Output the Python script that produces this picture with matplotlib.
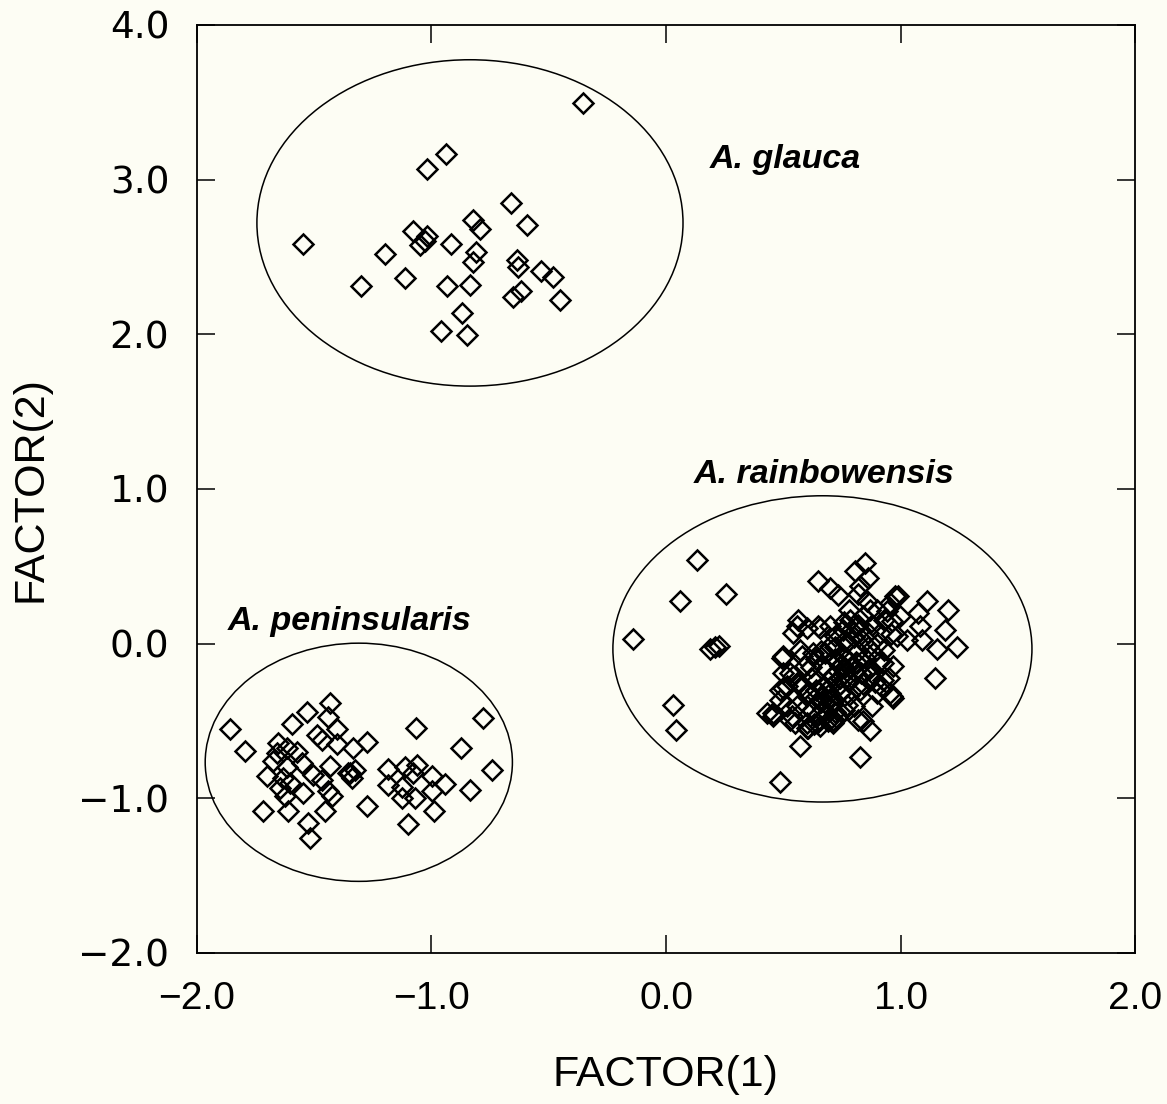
import matplotlib
matplotlib.use("Agg")
import matplotlib.pyplot as plt
from matplotlib.patches import Ellipse

# A. glauca scores
glauca_x = [-0.353, -0.938, -1.018, -0.661, -0.594, -0.824, -0.793, -1.078, -1.018, -1.028,
            -1.049, -1.549, -0.918, -1.198, -0.812, -0.824, -0.637, -0.633, -0.534, -0.481,
            -1.113, -1.302, -0.935, -0.836, -0.618, -0.651, -0.452, -0.871, -0.961, -0.847]
glauca_y = [3.498, 3.166, 3.071, 2.851, 2.707, 2.739, 2.681, 2.670, 2.638, 2.606,
            2.576, 2.582, 2.584, 2.520, 2.530, 2.470, 2.481, 2.434, 2.408, 2.369,
            2.365, 2.313, 2.315, 2.319, 2.282, 2.240, 2.222, 2.136, 2.024, 1.996]

# A. peninsularis scores
penin_x = [-1.859, -1.795, -1.433, -1.532, -1.440, -1.596, -1.404, -1.490, -1.468, -1.404,
           -1.653, -1.617, -1.575, -1.333, -1.675, -1.617, -1.554, -1.433, -1.703, -1.632,
           -1.603, -1.504, -1.468, -1.348, -1.547, -1.625, -1.440, -1.426, -1.717, -1.611,
           -1.454, -1.525, -1.518, -1.660, -1.646, -0.779, -1.067, -0.874, -1.276, -0.743,
           -1.184, -1.113, -1.063, -0.999, -0.942, -0.836, -1.184, -1.127, -1.078, -0.999,
           -1.127, -1.070, -1.276, -0.989, -1.099, -1.356, -1.339, -1.326]
penin_y = [-0.553, -0.691, -0.381, -0.445, -0.475, -0.518, -0.553, -0.590, -0.626, -0.648,
           -0.643, -0.676, -0.698, -0.676, -0.762, -0.798, -0.773, -0.790, -0.859, -0.869,
           -0.902, -0.848, -0.880, -0.837, -0.966, -0.988, -0.956, -0.988, -1.085, -1.085,
           -1.079, -1.160, -1.257, -0.708, -0.934, -0.482, -0.546, -0.672, -0.633, -0.816,
           -0.811, -0.798, -0.783, -0.859, -0.906, -0.945, -0.913, -0.924, -0.837, -0.956,
           -0.999, -0.999, -1.048, -1.079, -1.165, -0.835, -0.868, -0.816]

# A. rainbowensis scores
rainb_x = [0.849, 0.806, 0.863, 0.827, 0.649, 0.699, 0.735, 0.977, 0.856, 0.899,
           0.941, 0.998, 0.962, 0.564, 0.600, 0.657, 0.699, 0.785, 0.756, 0.827,
           0.913, 0.984, 0.500, 0.571, 0.628, 0.699, 0.756, 0.813, 0.884, 0.927,
           0.969, 0.742, 0.671, 0.593, 0.529, 0.557, 0.643, 0.713, 0.785, 0.870,
           0.927, 0.962, 0.899, 0.827, 0.742, 0.671, 0.600, 0.515, 0.486, 0.557,
           0.621, 0.692, 0.771, 0.458, 0.529, 0.600, 0.657, 0.841, 0.870, 0.713,
           0.540, 0.500, 0.515, 0.458, 0.536, 0.600, 0.643, 0.493, 0.500, 0.486,
           0.550, 0.607, 0.557, 0.543, 0.649, 0.955, 0.969, 0.820, 0.713, 0.429,
           0.720, 0.760, 0.800, 0.740, 0.780, 0.700, 0.660, 0.680, 0.720, 0.640,
           0.820, 0.860, 0.900, 0.880, 0.920, 0.950, 0.800, 0.760, 0.700, 0.620,
           0.580, 0.600, 0.740, 0.840, 0.880, 0.660, 0.720, 0.780, 0.840, 0.820,
           0.730, 0.750, 0.770, 0.790, 0.810, 0.760, 0.780, 0.740, 0.710, 0.690,
           0.670, 0.690, 0.710, 0.670, 0.650, 0.630, 0.610, 0.580, 0.620, 0.640,
           0.680, 0.720, 0.770, 0.830, 0.860, 0.850, 0.870, 0.890, 0.830, 0.810,
           0.780, 0.760, 0.730, 0.690, 0.630, 0.800, 0.910, 0.930, 0.870, 0.820,
           0.790, 0.760, 0.930, 0.960,
           1.114, 1.204, 1.076, 1.083, 1.190, 1.090, 1.154, 1.240, 1.026, 0.991,
           0.955, 1.147, 0.131, 0.256, 0.060, -0.139, 0.188, 0.209, 0.227, 0.031,
           0.041, 0.571, 0.486, 0.827]
rainb_y = [0.522, 0.467, 0.425, 0.370, 0.403, 0.360, 0.317, 0.306, 0.273, 0.220,
           0.209, 0.176, 0.144, 0.155, 0.101, 0.101, 0.112, 0.155, 0.090, 0.090,
           0.069, 0.047, -0.082, -0.039, -0.060, -0.017, -0.082, -0.125, -0.060, -0.125,
           -0.147, -0.147, -0.147, -0.147, -0.189, -0.254, -0.233, -0.211, -0.233, -0.211,
           -0.233, -0.341, -0.319, -0.297, -0.319, -0.341, -0.319, -0.276, -0.362, -0.405,
           -0.427, -0.405, -0.394, -0.448, -0.491, -0.513, -0.534, -0.502, -0.556, -0.491,
           -0.210, -0.287, -0.405, -0.470, -0.470, -0.545, -0.513, -0.092, -0.189, -0.297,
           -0.513, -0.545, 0.112, 0.069, 0.112, -0.319, -0.351, -0.491, -0.513, -0.448,
           -0.100, -0.160, -0.180, -0.220, -0.120, -0.280, -0.380, -0.460, -0.440, -0.300,
           -0.050, -0.020, 0.000, 0.120, -0.280, -0.220, 0.040, 0.020, -0.360, -0.220,
           -0.080, -0.400, -0.320, -0.260, -0.400, -0.050, 0.050, 0.220, 0.180, 0.320,
           -0.120, -0.140, -0.100, -0.150, -0.120, -0.190, -0.230, -0.260, -0.200, -0.240,
           -0.290, -0.330, -0.390, -0.420, -0.460, -0.360, -0.320, -0.270, -0.150, -0.100,
           -0.060, -0.020, 0.010, 0.030, 0.070, -0.090, -0.160, -0.250, -0.190, -0.280,
           -0.330, -0.430, -0.480, -0.500, -0.520, -0.400, -0.120, -0.040, 0.220, 0.120,
           0.090, 0.140, 0.150, 0.060,
           0.273, 0.220, 0.198, 0.112, 0.090, 0.026, -0.034, -0.021, 0.026, 0.310,
           0.263, -0.220, 0.543, 0.323, 0.273, 0.030, -0.034, -0.021, -0.013, -0.399,
           -0.560, -0.659, -0.892, -0.730]

# group ellipses: centre x, centre y, width, height
ell_cx = [-0.836, -1.31, 0.667]
ell_cy = [2.72, -0.767, -0.034]
ell_w = [1.817, 1.31, 1.787]
ell_h = [2.11, 1.54, 1.98]

species = ["A. glauca", "A. peninsularis", "A. rainbowensis"]
label_x = [0.507, -1.348, 0.674]
label_y = [3.127, 0.141, 1.091]

ticks = [-2.0, -1.0, 0.0, 1.0, 2.0]
yticks = [-2.0, -1.0, 0.0, 1.0, 2.0, 3.0, 4.0]

bg = "#fdfdf4"
fig = plt.figure(figsize=(11.67, 11.04), dpi=100, facecolor=bg)
ax = fig.add_axes([0.1688, 0.1368, 0.8038, 0.8406])
ax.set_facecolor(bg)

for cx, cy, w, h in zip(ell_cx, ell_cy, ell_w, ell_h):
    ax.add_patch(Ellipse((cx, cy), w, h, fill=False, edgecolor="black", linewidth=1.1))

mk = dict(marker="D", linestyle="none", markersize=10.5, markerfacecolor="none",
          markeredgecolor="black", markeredgewidth=1.8)
ax.plot(glauca_x, glauca_y, **mk)
ax.plot(penin_x, penin_y, **mk)
ax.plot(rainb_x, rainb_y, **mk)

for name, lx, ly in zip(species, label_x, label_y):
    ax.text(lx, ly, name, ha="center", va="center", fontsize=24.5,
            fontweight="bold", fontstyle="italic", family="Liberation Sans")

ax.set_xlim(-2, 2)
ax.set_ylim(-2, 4)
ax.set_xticks(ticks)
ax.set_yticks(yticks)
ax.set_xticklabels([f"{t:.1f}".replace("-", "\u2212") for t in ticks],
                   family="Liberation Sans", fontsize=28)
ax.set_yticklabels([f"{t:.1f}".replace("-", "\u2212") for t in yticks],
                   family="DejaVu Sans", fontsize=27)
ax.tick_params(direction="in", length=13, width=1.1, top=True, right=True)
ax.tick_params(axis="x", pad=20)
ax.tick_params(axis="y", pad=20)
for s in ax.spines.values():
    s.set_linewidth(1.3)

fig.text(0.570, 0.026, "FACTOR(1)", ha="center", va="center", fontsize=31,
         family="Liberation Sans")
fig.text(0.026, 0.557, "FACTOR(2)", ha="center", va="center", rotation=90, fontsize=31,
         family="Liberation Sans")

fig.savefig("out.png", dpi=100, facecolor=bg)
